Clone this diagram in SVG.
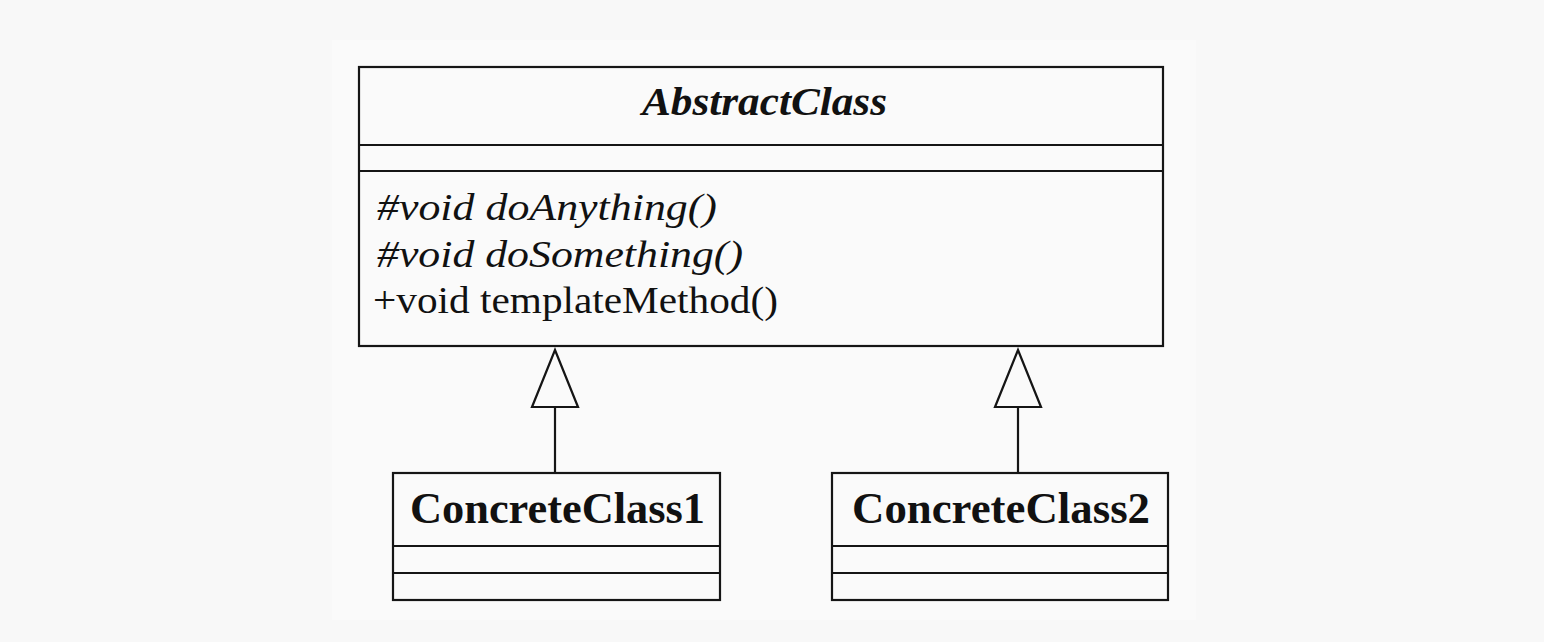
<svg xmlns="http://www.w3.org/2000/svg" width="1544" height="642" viewBox="0 0 1544 642">
<style>
.box{fill:none;stroke:#151515;stroke-width:2.2}
.ln{stroke:#151515;stroke-width:2.2;fill:none}
.tri{fill:#fafafa;stroke:#151515;stroke-width:2.2;stroke-linejoin:miter}
.t{font-family:"Liberation Serif","Times New Roman",serif;fill:#111}
.title{font-size:40px;font-weight:bold;font-style:italic}
.m{font-size:38px}
.mi{font-style:italic}
.cc{font-size:44px;font-weight:bold}
</style>
<rect x="0" y="0" width="1544" height="642" fill="#f8f8f8"/>
<rect x="332" y="40" width="864" height="580" fill="#fafafa"/>
<g id="AbstractClass">
<rect class="box" x="359" y="67" width="804" height="279"/>
<line class="ln" x1="359" y1="145" x2="1163" y2="145"/>
<line class="ln" x1="359" y1="171" x2="1163" y2="171"/>
<text class="t title" x="642" y="115" textLength="245" lengthAdjust="spacingAndGlyphs">AbstractClass</text>
<text class="t m mi" x="377" y="220" textLength="340" lengthAdjust="spacingAndGlyphs">#void doAnything()</text>
<text class="t m mi" x="377" y="267" textLength="366" lengthAdjust="spacingAndGlyphs">#void doSomething()</text>
<text class="t m" x="373" y="313" textLength="405" lengthAdjust="spacingAndGlyphs">+void templateMethod()</text>
</g>
<g id="ConcreteClass1">
<rect class="box" x="393" y="473" width="327" height="127"/>
<line class="ln" x1="393" y1="546" x2="720" y2="546"/>
<line class="ln" x1="393" y1="573" x2="720" y2="573"/>
<text class="t cc" x="410" y="523" textLength="295" lengthAdjust="spacingAndGlyphs">ConcreteClass1</text>
</g>
<g id="ConcreteClass2">
<rect class="box" x="832" y="473" width="336" height="127"/>
<line class="ln" x1="832" y1="546" x2="1168" y2="546"/>
<line class="ln" x1="832" y1="573" x2="1168" y2="573"/>
<text class="t cc" x="852" y="523" textLength="298" lengthAdjust="spacingAndGlyphs">ConcreteClass2</text>
</g>
<g id="connectors">
<line class="ln" x1="555" y1="407" x2="555" y2="473"/>
<polygon class="tri" points="555,350 578,407 532,407"/>
<line class="ln" x1="1018" y1="407" x2="1018" y2="473"/>
<polygon class="tri" points="1018,350 1041,407 995,407"/>
</g>
</svg>
